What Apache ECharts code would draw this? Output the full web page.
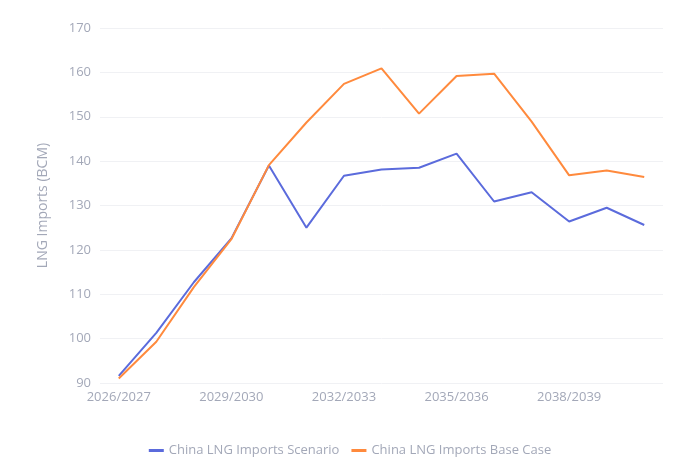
<!DOCTYPE html>
<html>
<head>
<meta charset="utf-8">
<style>
  html, body { margin: 0; padding: 0; background: #fff; }
  #chart { width: 700px; height: 460px; }
</style>
<script src="https://cdn.jsdelivr.net/npm/echarts@6/dist/echarts.min.js"></script>
</head>
<body>
<div id="chart"></div>
<script>
const years = [
  '2026/2027', '2027/2028', '2028/2029', '2029/2030', '2030/2031',
  '2031/2032', '2032/2033', '2033/2034', '2034/2035', '2035/2036',
  '2036/2037', '2037/2038', '2038/2039', '2039/2040', '2040/2041',
]
const scenario = [91.6, 101.3, 112.7, 122.6, 139.0, 125.0, 136.7, 138.1, 138.5, 141.7, 130.9, 133.0, 126.4, 129.5, 125.6]
const baseCase = [91.0, 99.3, 111.6, 122.4, 139.1, 148.7, 157.4, 160.9, 150.7, 159.2, 159.7, 148.9, 136.8, 137.9, 136.4]

const font = '"Open Sans", "Noto Sans", sans-serif'
const grey = '#a3a8b8'

const chart = echarts.init(document.getElementById('chart'))
chart.setOption({
  animation: false,
  textStyle: { fontFamily: font },
  color: ['#5b6bdc', '#ff8a3d'],
  grid: { left: 100, right: 37, top: 28, bottom: 77 },
  legend: {
    top: 439,
    icon: 'rect',
    itemWidth: 15,
    itemHeight: 3,
    itemGap: 12,
    textStyle: { color: grey, fontSize: 13, fontFamily: font },
    data: ['China LNG Imports Scenario', 'China LNG Imports Base Case'],
  },
  xAxis: {
    type: 'category',
    data: years,
    boundaryGap: true,
    axisLine: { show: false },
    axisTick: { show: false },
    axisLabel: { color: grey, fontSize: 13, interval: 2, margin: 8 },
  },
  yAxis: {
    type: 'value',
    min: 90,
    max: 170,
    interval: 10,
    name: 'LNG Imports (BCM)',
    nameLocation: 'middle',
    nameGap: 50,
    nameTextStyle: { color: grey, fontSize: 14 },
    axisLine: { show: false },
    axisTick: { show: false },
    axisLabel: { color: grey, fontSize: 13, margin: 9 },
    splitLine: { lineStyle: { color: '#f0f1f4' } },
  },
  series: [
    { name: 'China LNG Imports Scenario', type: 'line', data: scenario, showSymbol: false, lineStyle: { width: 2 } },
    { name: 'China LNG Imports Base Case', type: 'line', data: baseCase, showSymbol: false, lineStyle: { width: 2 } },
  ],
})
</script>
</body>
</html>
